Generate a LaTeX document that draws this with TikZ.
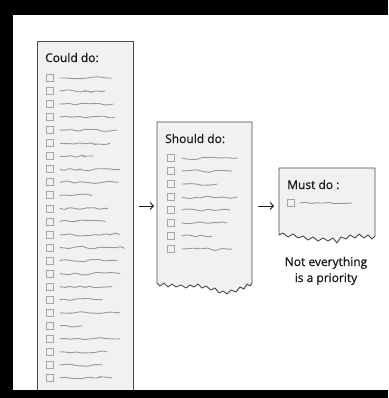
\documentclass[tikz,border=0pt]{standalone}
\usepackage{fontspec}
\setmainfont{Open Sans}
\newfontfamily\handfont{Open Sans}[FakeBold=0.7]
\usetikzlibrary{arrows.meta,decorations.pathmorphing}
\definecolor{sheetfill}{HTML}{F1F1F1}
\definecolor{sheetline}{HTML}{4A4A4A}
\definecolor{chkline}{HTML}{A6A6A6}
\definecolor{inkgray}{HTML}{999999}
\definecolor{titleink}{HTML}{1A1A1A}
\begin{document}
\begin{tikzpicture}[x=1pt,y=-1pt,
  sheet/.style={draw=sheetline, fill=sheetfill, line width=0.9pt, line join=round},
  chk/.style={draw=chkline, fill=sheetfill, line width=0.8pt},
  squig/.style={draw=inkgray, line width=0.9pt, line cap=round,
    decorate, decoration={random steps, segment length=5pt, amplitude=1.5pt},
    rounded corners=2.4pt},
  title/.style={anchor=base west, font=\handfont\fontsize{12}{14}\selectfont, text=titleink, inner sep=0pt},
  note/.style={anchor=base, font=\handfont\fontsize{12}{14}\selectfont, text=titleink, inner sep=0pt},
  flow/.style={-{Straight Barb[length=3.5pt,width=7pt]}, line width=0.8pt, draw=titleink}
]
\pgfmathsetseed{11}
\useasboundingbox (0,0) rectangle (388,398);
\fill[white] (0,0) rectangle (388,398);

% ---- Could do sheet (runs off the bottom) ----
\path[sheet] (37,41) rectangle (133,410);
\node[title] (could) at (45,62) {Could do:};
\foreach \e [count=\k from 0] in {112,105,113,115,117,110,93,120,118,92,108,105,120,123,117,120,112,102,120,82,120,107,102,112}{
  \pgfmathsetmacro\yy{78+13.04*\k}
  \draw[chk] (46,\yy-3.5) rectangle (53,\yy+3.5);
  \draw[squig] (60,\yy) -- (\e,\yy);
}

% ---- Should do sheet with torn bottom ----
\path[sheet] (157,122) -- (252,122) -- (252,283)
  -- (250,286) -- (247,284) -- (244,289) -- (240,287) -- (236,292) -- (231,290)
  -- (227,294) -- (223,291) -- (219,293) -- (215,288) -- (211,290) -- (206,286)
  -- (202,288) -- (198,284) -- (194,287) -- (190,285) -- (186,288) -- (181,285)
  -- (176,287) -- (172,284) -- (168,287) -- (164,283) -- (160,286) -- (157,283) -- cycle;
\node[title] (should) at (165,143) {Should do:};
\foreach \e [count=\k from 0] in {238,232,217,237,230,227,212,232}{
  \pgfmathsetmacro\yy{158+13*\k}
  \draw[chk] (167,\yy-3.5) rectangle (174,\yy+3.5);
  \draw[squig] (182,\yy) -- (\e,\yy);
}

% ---- Must do sheet with torn bottom ----
\path[sheet] (279,168) -- (375,168) -- (375,236)
  -- (372,239) -- (368,235) -- (364,238) -- (359,234) -- (355,238) -- (350,235)
  -- (346,239) -- (341,237) -- (337,243) -- (333,238) -- (328,241) -- (323,238)
  -- (318,241) -- (313,237) -- (308,240) -- (303,236) -- (298,238) -- (293,234)
  -- (288,237) -- (283,233) -- (279,235) -- cycle;
\node[title] (must) at (287,189) {Must do :};
\draw[chk] (287,199.5) rectangle (294,206.5);
\draw[squig] (300,203) -- (352,203);

% ---- arrows between the sheets ----
\coordinate (a1) at (139,206);
\coordinate (b1) at (154,206);
\coordinate (a2) at (258,206);
\coordinate (b2) at (274,206);
\draw[flow] (a1) -- (b1);
\draw[flow] (a2) -- (b2);

% ---- caption ----
\node[note] (cap1) at (326,266) {Not everything};
\node[note] (cap2) at (326,282) {is a priority};

% ---- frame ----
\fill[black] (0,0) rectangle (388,15);
\fill[black] (0,0) rectangle (13,398);
\fill[black] (0,390) rectangle (388,398);
\end{tikzpicture}
\end{document}
